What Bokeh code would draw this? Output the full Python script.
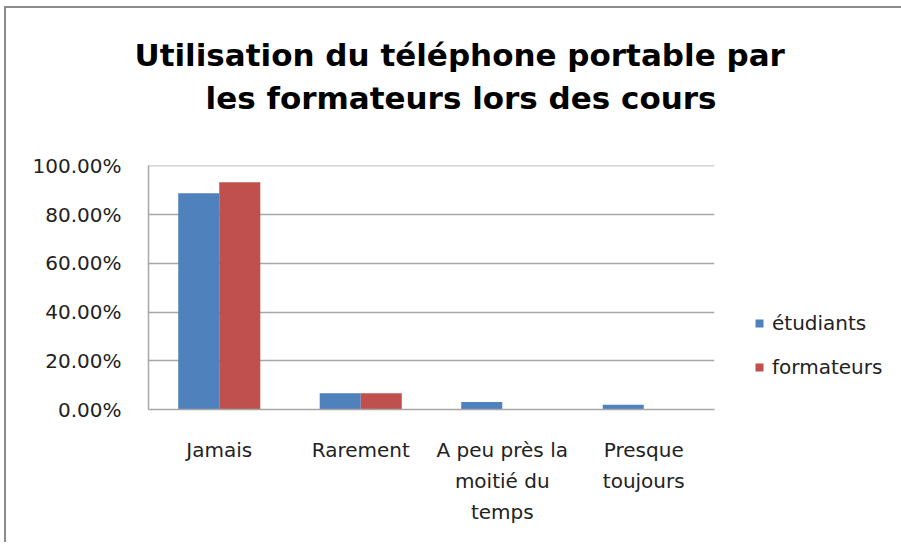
from bokeh.plotting import figure
from bokeh.models import (FactorRange, ColumnDataSource, NumeralTickFormatter, Title,
                          Legend, LegendItem, FixedTicker, Range1d)
from bokeh.transform import dodge
from bokeh.embed import file_html
from bokeh.resources import INLINE

# ---- data ----
categories = ["Jamais", "Rarement", "A peu près la\nmoitié du\ntemps", "Presque\ntoujours"]
etudiants = [0.888, 0.067, 0.031, 0.020]
formateurs = [0.933, 0.067, 0.0, 0.0]
series_names = ["étudiants", "formateurs"]
series_colors = ["#4F81BD", "#C0504D"]
title_lines = ["Utilisation du téléphone portable par", "les formateurs lors des cours"]
y_ticks = [0.0, 0.2, 0.4, 0.6, 0.8, 1.0]

FONT = "DejaVu Sans"

src = ColumnDataSource(dict(cat=categories, etudiants=etudiants, formateurs=formateurs))

p = figure(x_range=FactorRange(*categories, range_padding=0), y_range=Range1d(0, 1.002),
           frame_width=566, frame_height=244, output_backend="svg", toolbar_location=None,
           min_border_left=142, min_border_right=185, min_border_top=157, min_border_bottom=135,
           background_fill_color="white", border_fill_color="white")
p.title = None
p.outline_line_color = None
p.styles = {"margin-left": "6px", "margin-top": "8px",
            "box-shadow": "-2px -2px 0px 0px #8c8c8c"}

r1 = p.vbar(x=dodge("cat", -0.145, range=p.x_range), top="etudiants", width=0.29,
            source=src, fill_color=series_colors[0], line_color=None)
r2 = p.vbar(x=dodge("cat", 0.145, range=p.x_range), top="formateurs", width=0.29,
            source=src, fill_color=series_colors[1], line_color=None)

# grid
p.xgrid.grid_line_color = None
p.ygrid.grid_line_color = "#a6a6a6"
p.ygrid.grid_line_width = 1.5
p.ygrid.ticker = FixedTicker(ticks=y_ticks)

# y axis
p.yaxis.ticker = FixedTicker(ticks=y_ticks)
p.yaxis.formatter = NumeralTickFormatter(format="0.00%")
p.yaxis.axis_line_color = "#a6a6a6"
p.yaxis.axis_line_width = 1.5
p.yaxis.major_tick_out = 0
p.yaxis.major_tick_in = 0
p.yaxis.minor_tick_out = 0
p.yaxis.minor_tick_in = 0
p.yaxis.major_label_standoff = 27
p.yaxis.major_label_text_font = FONT
p.yaxis.major_label_text_font_size = "20px"
p.yaxis.major_label_text_color = "#222222"

# x axis
p.xaxis.axis_line_color = "#a6a6a6"
p.xaxis.axis_line_width = 1.5
p.xaxis.major_tick_out = 0
p.xaxis.major_tick_in = 0
p.xaxis.major_label_standoff = 28
p.xaxis.major_label_text_font = FONT
p.xaxis.major_label_text_font_size = "20px"
p.xaxis.major_label_text_color = "#222222"
p.xaxis.major_label_text_line_height = 1.3

# title: spacer nearest to frame, then line 2, then line 1
spacer = Title(text=" ", text_font_size="1px", standoff=44)
t2 = Title(text=title_lines[1], align="left", offset=57, standoff=6,
           text_font=FONT, text_font_style="bold", text_font_size="31px", text_color="#000000")
t1 = Title(text=title_lines[0], align="left", offset=-14, standoff=3,
           text_font=FONT, text_font_style="bold", text_font_size="31px", text_color="#000000")
p.add_layout(spacer, "above")
p.add_layout(t2, "above")
p.add_layout(t1, "above")

# legend
legend = Legend(items=[LegendItem(label=series_names[0], renderers=[r1]),
                       LegendItem(label=series_names[1], renderers=[r2])],
                location=(40, 30), orientation="vertical",
                glyph_width=10, glyph_height=10, label_standoff=8, spacing=20,
                padding=0, margin=0, border_line_color=None, background_fill_alpha=0,
                label_text_font=FONT, label_text_font_size="20px", label_text_color="#222222")
p.add_layout(legend, "right")

open("out.html", "w").write(file_html(p, INLINE))
